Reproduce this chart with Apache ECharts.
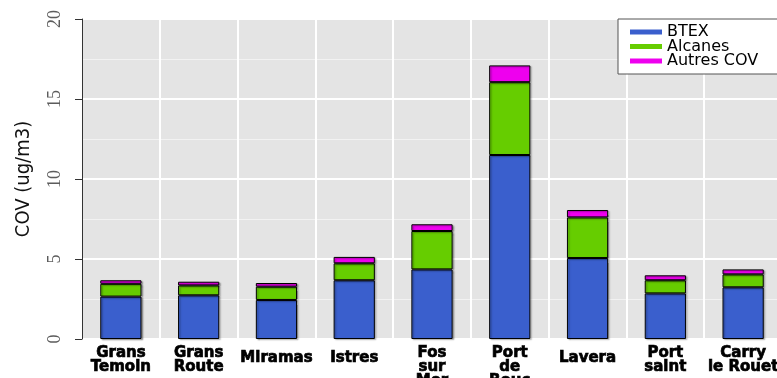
<!DOCTYPE html>
<html>
<head>
<meta charset="utf-8">
<script src="https://cdn.jsdelivr.net/npm/echarts@6/dist/echarts.min.js"></script>
<style>
  html, body { margin: 0; padding: 0; background: #ffffff; }
  #chart { width: 777px; height: 378px; }
</style>
</head>
<body>
<div id="chart"></div>
<script>
// Sites (line breaks as printed under each bar)
const categories = ['Grans\nTemoin', 'Grans\nRoute', 'Miramas', 'Istres', 'Fos\nsur\nMer',
  'Port\nde\nBouc', 'Lavera', 'Port\nsaint', 'Carry\nle Rouet'];

// Concentrations in ug/m3, stacked per site
const btex    = [2.65, 2.73, 2.44, 3.67, 4.35, 11.50, 5.06, 2.85, 3.23];
const alcanes = [0.80, 0.62, 0.83, 1.06, 2.40, 4.55, 2.54, 0.82, 0.81];
const autres  = [0.22, 0.23, 0.23, 0.40, 0.42, 1.05, 0.46, 0.31, 0.31];

const seriesNames = ['BTEX', 'Alcanes', 'Autres COV'];
const seriesColors = ['#3A5FCD', '#66CD00', '#EE00EE'];

// Y scale
const yMin = 0;
const yMax = 20;
const yStep = 5;

const chart = echarts.init(document.getElementById('chart'), null, { renderer: 'canvas' });

// Single-line labels sit a little lower than the multi-line ones
const xData = categories.map(function (c) {
  const lines = c.split('\n').length;
  return lines === 1 ? { value: c, textStyle: { padding: [5, 0, 0, 0] } } : c;
});

function barSeries(name, values, color) {
  return {
    name: name,
    type: 'bar',
    stack: 'total',
    barWidth: '53%',
    data: values,
    itemStyle: {
      color: color,
      borderColor: '#000',
      borderWidth: 1,
      shadowColor: 'rgba(0,0,0,0.3)',
      shadowBlur: 1.5,
      shadowOffsetX: 1.5,
      shadowOffsetY: 1
    },
    emphasis: { disabled: true }
  };
}

chart.setOption({
  animation: false,
  backgroundColor: '#ffffff',
  grid: {
    left: 82,
    right: -5,
    top: 19,
    bottom: 39,
    outerBoundsMode: 'none',
    containLabel: false,
    show: true,
    backgroundColor: '#E4E4E4',
    borderWidth: 0
  },
  legend: {
    data: seriesNames,
    orient: 'vertical',
    left: 618,
    top: 19,
    padding: [5, 50, 5, 12],
    itemGap: -1.5,
    itemWidth: 32,
    itemHeight: 5,
    icon: 'rect',
    itemStyle: { borderWidth: 0, shadowBlur: 0, shadowOffsetX: 0, shadowOffsetY: 0 },
    backgroundColor: '#ffffff',
    borderColor: '#555555',
    borderWidth: 1,
    borderRadius: 0,
    textStyle: {
      fontFamily: 'DejaVu Sans',
      fontSize: 16,
      lineHeight: 14,
      color: '#000'
    }
  },
  xAxis: {
    type: 'category',
    data: xData,
    boundaryGap: true,
    axisLine: { show: false },
    axisTick: { show: false },
    axisLabel: {
      interval: 0,
      margin: 7,
      verticalAlign: 'top',
      fontFamily: 'DejaVu Sans',
      fontWeight: 'bold',
      fontSize: 15,
      lineHeight: 14,
      color: '#000',
      textBorderColor: '#000',
      textBorderWidth: 0.7
    },
    splitLine: {
      show: true,
      interval: 0,
      lineStyle: { color: '#ffffff', width: 2 }
    }
  },
  yAxis: {
    type: 'value',
    min: yMin,
    max: yMax,
    interval: yStep,
    name: 'COV (ug/m3)',
    nameLocation: 'middle',
    nameRotate: 90,
    nameGap: 48,
    nameTextStyle: {
      fontFamily: 'DejaVu Sans Condensed',
      fontSize: 20,
      color: '#111'
    },
    axisLine: { show: true, lineStyle: { color: '#333', width: 1 } },
    axisTick: { show: true, length: 7, lineStyle: { color: '#333', width: 1 } },
    axisLabel: {
      rotate: 90,
      margin: 18,
      fontFamily: 'Liberation Sans Narrow',
      fontSize: 18,
      color: '#5c5c5c'
    },
    splitLine: { show: true, lineStyle: { color: '#ffffff', width: 2 } },
    minorTick: { show: false, splitNumber: 2 },
    minorSplitLine: { show: true, lineStyle: { color: '#F2F2F2', width: 1 } }
  },
  series: [
    barSeries(seriesNames[0], btex, seriesColors[0]),
    barSeries(seriesNames[1], alcanes, seriesColors[1]),
    barSeries(seriesNames[2], autres, seriesColors[2])
  ]
});
</script>
</body>
</html>
